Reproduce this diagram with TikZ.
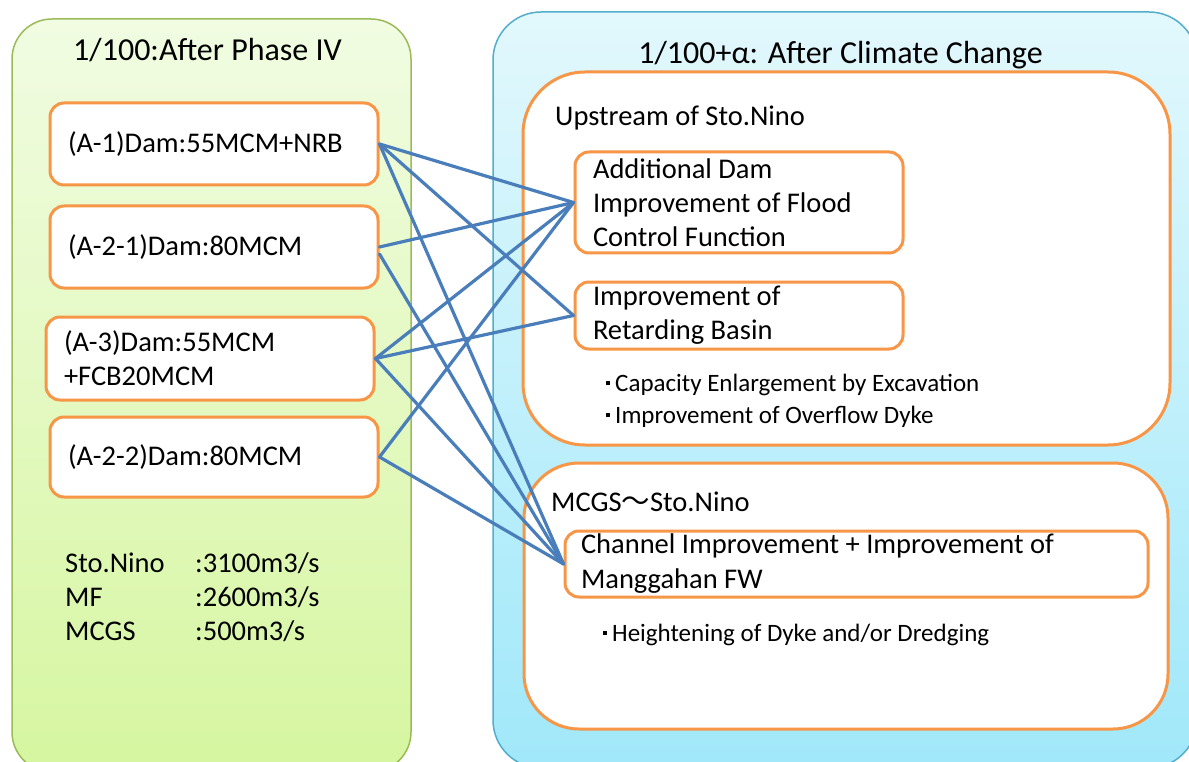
\documentclass[tikz,border=0pt]{standalone}
\usepackage{fontspec}
\setmainfont{Carlito}
\newfontfamily\cjkfont{Noto Sans CJK JP}
\definecolor{leafline}{RGB}{155,187,89}
\definecolor{leaftop}{RGB}{241,252,226}
\definecolor{leafbot}{RGB}{214,246,160}
\definecolor{skyline}{RGB}{82,174,204}
\definecolor{skytop}{RGB}{226,248,252}
\definecolor{skybot}{RGB}{160,232,250}
\definecolor{boxorange}{RGB}{247,150,70}
\definecolor{linkblue}{RGB}{74,126,187}
% small square bullet in a fixed-width slot
\newcommand\kdot{\hbox to 20pt{\hss\raisebox{6pt}{\rule{4pt}{4pt}}\kern5pt}}
\begin{document}
\begin{tikzpicture}[x=1pt,y=-1pt,
  bigfont/.style={font=\fontsize{32}{38}\selectfont},
  midfont/.style={font=\fontsize{28.5}{34}\selectfont},
  smallfont/.style={font=\fontsize{25}{32}\selectfont},
  obox/.style={draw=boxorange, line width=3pt, fill=white, rounded corners=14pt,
    align=flush left, inner xsep=18pt, inner ysep=0pt, midfont},
  areabox/.style={draw=boxorange, line width=3pt, fill=white, inner sep=0pt},
  label/.style={inner sep=0pt, anchor=base west},
  link/.style={draw=linkblue, line width=3.2pt, line cap=round}
]
\useasboundingbox (0,0) rectangle (1189,762);

% the two background panels
\path[draw=leafline, line width=1.5pt, rounded corners=40pt,
  top color=leaftop, bottom color=leafbot] (12,19) rectangle (411,772);
\path[draw=skyline, line width=1.5pt, rounded corners=48pt,
  top color=skytop, bottom color=skybot] (493,12) rectangle (1197,768);

\node[bigfont, inner sep=0pt, anchor=base] (titleL) at (207.5,60.5) {1/100:After Phase IV};
\node[bigfont, inner sep=0pt, anchor=base] (titleR) at (840.5,63.5) {1/100+α: After Climate Change};

% alternatives on the left
\node[obox, text width=292pt, minimum height=82pt] (a1) at (214,144) {(A-1)Dam:55MCM+NRB};
\node[obox, text width=292pt, minimum height=82pt] (a21) at (214,247) {(A-2-1)Dam:80MCM};
\node[obox, text width=292pt, minimum height=83pt] (a3) at (210,358.5) {(A-3)Dam:55MCM\\+FCB20MCM};
\node[obox, text width=292pt, minimum height=80pt] (a22) at (214,457) {(A-2-2)Dam:80MCM};

% design discharges
\node[label, midfont] (q1n) at (65,572) {Sto.Nino};
\node[label, midfont] (q1v) at (195,572) {:3100m3/s};
\node[label, midfont] (q2n) at (65,606) {MF};
\node[label, midfont] (q2v) at (195,606) {:2600m3/s};
\node[label, midfont] (q3n) at (65,640) {MCGS};
\node[label, midfont] (q3v) at (195,640) {:500m3/s};

% measures on the right: upstream area
\node[areabox, rounded corners=62pt, minimum width=647pt, minimum height=373pt] (up) at (846.5,258.5) {};
\node[label, midfont] (upt) at (555,126) {Upstream of Sto.Nino};
\node[obox, text width=292pt, minimum height=101pt] (ad) at (739,202.5) {Additional Dam\\Improvement of Flood\\Control Function};
\node[obox, text width=292pt, minimum height=67pt] (rb) at (739,315.5) {Improvement of\\Retarding Basin};
\node[label, smallfont] (b1) at (595,391) {\kdot Capacity Enlargement by Excavation};
\node[label, smallfont] (b2) at (595,423) {\kdot Improvement of Overflow Dyke};

% measures on the right: MCGS to Sto.Nino
\node[areabox, rounded corners=55pt, minimum width=644pt, minimum height=266pt] (mc) at (846,596) {};
\node[label, midfont] (mct) at (551,511) {MCGS{\cjkfont ～}Sto.Nino};
\node[obox, text width=551pt, minimum height=66pt, inner xsep=16pt,
  font=\fontsize{28.5}{35}\selectfont] (ch) at (856.5,564) {Channel Improvement + Improvement of\\Manggahan FW};
\node[label, smallfont] (b3) at (592,641) {\kdot Heightening of Dyke and/or Dredging};

% links between alternatives and measures
\coordinate (a21lo) at ([yshift=-7pt]a21.east);
\draw[link] (a1.east) -- (ad.west);
\draw[link] (a1.east) -- (rb.west);
\draw[link] (a1.east) -- (ch.west);
\draw[link] (a21.east) -- (ad.west);
\draw[link] (a21lo) -- (ch.west);
\draw[link] (a3.east) -- (ad.west);
\draw[link] (a3.east) -- (rb.west);
\draw[link] (a3.east) -- (ch.west);
\draw[link] (a22.east) -- (ad.west);
\draw[link] (a22.east) -- (ch.west);
\end{tikzpicture}
\end{document}
